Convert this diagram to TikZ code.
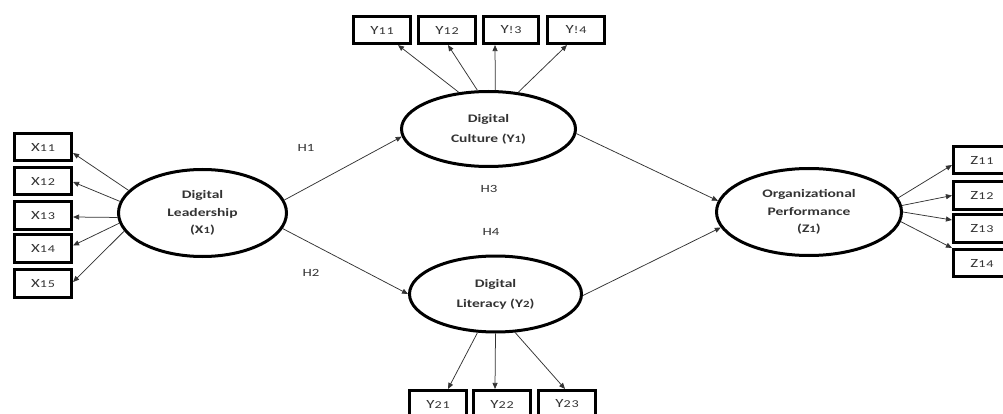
\documentclass[tikz,border=0pt]{standalone}
\usepackage{fontspec}
\setmainfont{Carlito}[FakeStretch=1.35]
\usetikzlibrary{shapes.geometric,arrows.meta}
\newcommand\smd[1]{{\fontsize{10.5}{10.5}\selectfont #1}}
\newcommand\smdl[1]{{\fontsize{9.5}{9.5}\selectfont #1}}
\begin{document}
\begin{tikzpicture}[x=1pt,y=-1pt,
  latent/.style={ellipse,draw,line width=3pt,inner sep=0pt,align=center,text=black!80,
    font=\fontsize{11.5}{17.5}\selectfont\bfseries},
  ind/.style={rectangle,draw,line width=2.6pt,inner sep=0pt,minimum width=57.5pt,minimum height=27.5pt,
    text=black!80,font=\fontsize{12.5}{13}\selectfont\addfontfeature{LetterSpace=8}},
  conn/.style={draw=black!80,line width=0.75pt,-{Triangle[length=6pt,width=5pt]}},
  hlab/.style={text=black!80,font=\fontsize{11}{12}\selectfont}]
\useasboundingbox (0,0) rectangle (1003,414);
\clip (0,0) rectangle (1003,414);

% latent variables
\node[latent,minimum width=168pt,minimum height=87pt] (X1) at (202.5,213) {Digital\\Leadership\\(X\smdl{1})};
\node[latent,minimum width=174pt,minimum height=75pt,font=\fontsize{11.5}{20}\selectfont\bfseries] (Y1) at (488.5,129) {Digital\\Culture (Y\smdl{1})};
\node[latent,minimum width=172pt,minimum height=76pt,font=\fontsize{11.5}{20}\selectfont\bfseries] (Y2) at (495.5,294) {Digital\\Literacy (Y\smdl{2})};
\node[latent,minimum width=185pt,minimum height=87pt] (Z1) at (809,212) {Organizational\\Performance\\(Z\smdl{1})};

% indicators X
\node[ind] (X11) at (43,147) {X\smd{11}};
\node[ind] (X12) at (43,181) {X\smd{12}};
\node[ind] (X13) at (43,215.5) {X\smd{13}};
\node[ind] (X14) at (43,248.5) {X\smd{14}};
\node[ind] (X15) at (43,283.5) {X\smd{15}};

% indicators Y1
\node[ind] (Y11) at (382,30) {Y\smd{11}};
\node[ind] (Y12) at (447,30) {Y\smd{12}};
\node[ind,minimum width=55.5pt] (Y13) at (511,30) {Y\smd{!3}};
\node[ind] (Y14) at (576,30) {Y\smd{!4}};

% indicators Y2
\node[ind] (Y21) at (438,404) {Y\smd{21}};
\node[ind] (Y22) at (502,404) {Y\smd{22}};
\node[ind] (Y23) at (567,404) {Y\smd{23}};

% indicators Z
\node[ind] (Z11) at (982,160) {Z\smd{11}};
\node[ind] (Z12) at (982,195.5) {Z\smd{12}};
\node[ind] (Z13) at (982,228.5) {Z\smd{13}};
\node[ind] (Z14) at (982,263) {Z\smd{14}};

% hypothesis labels
\node[hlab] (H1) at (306,148) {H1};
\node[hlab] (H2) at (311,273) {H2};
\node[hlab] (H3) at (489,189) {H3};
\node[hlab] (H4) at (491,232) {H4};

% X loadings
\draw[conn] (X1.163) -- ([yshift=-6pt]X11.east);
\draw[conn] (X1.172.6) -- ([yshift=-1pt]X12.east);
\draw[conn] (X1.183) -- ([yshift=-1.5pt]X13.east);
\draw[conn] (X1.187) -- ([yshift=3pt]X14.east);
\draw[conn] (X1.193) -- ([yshift=1.5pt]X15.east);

% Y1 loadings
\draw[conn] (Y1.129.8) -- ([xshift=16pt]Y11.south);
\draw[conn] (Y1.106.5) -- ([xshift=1pt]Y12.south);
\draw[conn] (Y1.80.5) -- ([xshift=-16pt]Y13.south);
\draw[conn] (Y1.51.3) -- ([xshift=-9pt]Y14.south);

% Y2 loadings
\draw[conn] (Y2.245.4) -- ([xshift=10pt]Y21.north);
\draw[conn] (Y2.270.5) -- ([xshift=-7pt]Y22.north);
\draw[conn] (Y2.297.2) -- ([xshift=-2pt]Y23.north);

% Z loadings
\draw[conn] (Z1.9) -- ([yshift=-5pt]Z11.west);
\draw[conn] (Z1.4) -- (Z12.west);
\draw[conn] (Z1.0) -- ([yshift=8.5pt]Z13.west);
\draw[conn] (Z1.-6) -- (Z14.north west);

% structural paths
\draw[conn] (X1.9) -- (Y1.185.3);
\draw[conn] (X1.349.5) -- (Y2.180.5);
\draw[conn] (Y1.357) -- (Z1.173.8);
\draw[conn] (Y2.359) -- (Z1.190.3);
\end{tikzpicture}
\end{document}
